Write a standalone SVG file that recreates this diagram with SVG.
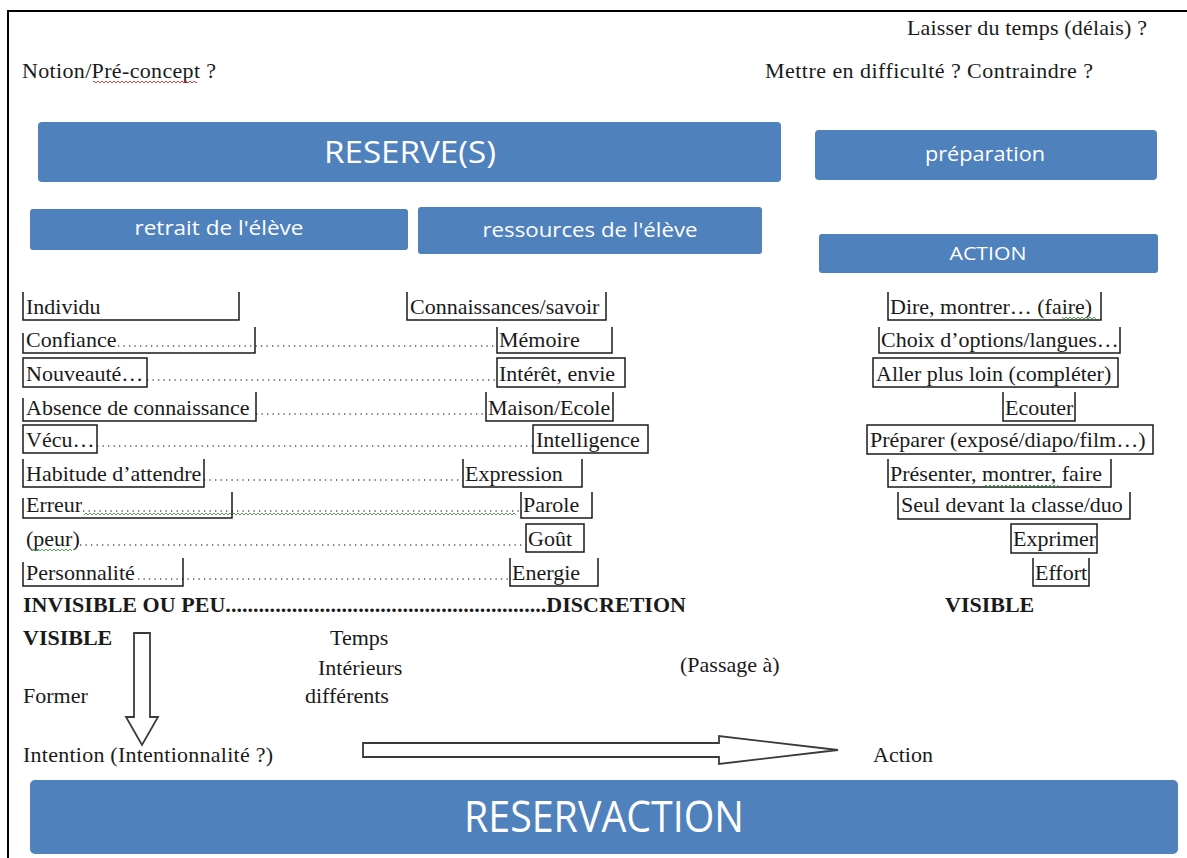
<svg xmlns="http://www.w3.org/2000/svg" width="1187" height="858" viewBox="0 0 1187 858">
<style>
.t{font-family:"Liberation Serif","Times New Roman",serif;font-size:22px;fill:#1a1a1a}
.b{font-weight:bold}
.bx{fill:none;stroke:#1a1a1a;stroke-width:1.5}
.lead{stroke:#555;stroke-width:1.3;stroke-dasharray:1.3 4.2;fill:none}
.blue{fill:#4f81bd}
.bl{font-family:"Open Sans","Noto Sans",sans-serif;fill:#ffffff;text-anchor:middle}
.arr{fill:#ffffff;stroke:#3a3a3a;stroke-width:1.8}
</style>
<defs>
<pattern id="wg" width="4" height="4" patternUnits="userSpaceOnUse"><path d="M0,3 L2,1 L4,3" fill="none" stroke="#3f9a3f" stroke-width="0.9"/></pattern>
<pattern id="wr" width="4" height="4" patternUnits="userSpaceOnUse"><path d="M0,3 L2,1 L4,3" fill="none" stroke="#d03030" stroke-width="0.9"/></pattern>
</defs>
<rect x="0" y="0" width="1187" height="858" fill="#ffffff"/>
<path d="M8,858 V11 H1187" fill="none" stroke="#000" stroke-width="2"/>

<g id="top-notes">
<text class="t" x="907" y="35" textLength="240">Laisser du temps (délais) ?</text>
<text class="t" x="765" y="78" textLength="328">Mettre en difficulté ? Contraindre ?</text>
<text class="t" x="22" y="78" textLength="194">Notion/Pré-concept ?</text>
<rect x="93" y="80" width="104" height="4" fill="url(#wr)"/>
</g>

<g id="reserves"><rect class="blue" x="38" y="122" width="743" height="60" rx="4"/><text class="bl" x="410" y="163" font-size="31" textLength="172" lengthAdjust="spacingAndGlyphs">RESERVE(S)</text></g>
<g id="preparation"><rect class="blue" x="815" y="130" width="342" height="50" rx="4"/><text class="bl" x="985" y="161" font-size="20" textLength="120" lengthAdjust="spacingAndGlyphs">préparation</text></g>
<g id="retrait"><rect class="blue" x="30" y="209" width="378" height="41" rx="3"/><text class="bl" x="219" y="235" font-size="20" textLength="169" lengthAdjust="spacingAndGlyphs">retrait de l'élève</text></g>
<g id="ressources"><rect class="blue" x="418" y="207" width="344" height="47" rx="3"/><text class="bl" x="590" y="237" font-size="20" textLength="215" lengthAdjust="spacingAndGlyphs">ressources de l'élève</text></g>
<g id="action-box"><rect class="blue" x="819" y="234" width="339" height="39" rx="3"/><text class="bl" x="988" y="260" font-size="18" textLength="77" lengthAdjust="spacingAndGlyphs">ACTION</text></g>

<g id="connectors">
<line class="lead" x1="118" y1="346" x2="497" y2="346"/>
<line class="lead" x1="147" y1="380" x2="497" y2="380"/>
<line class="lead" x1="256" y1="414" x2="486" y2="414"/>
<line class="lead" x1="97" y1="446" x2="533" y2="446"/>
<line class="lead" x1="204" y1="480" x2="463" y2="480"/>
<line class="lead" x1="83" y1="511" x2="521" y2="511"/>
<rect x="84" y="512" width="432" height="4" fill="url(#wg)"/>
<line class="lead" x1="80" y1="545" x2="526" y2="545"/>
<line class="lead" x1="138" y1="579" x2="510" y2="579"/>
<path class="arr" d="M134,633 H150 V717 H158 L142,745 L126,717 H134 Z"/>
<path class="arr" d="M363,743 H719 V736 L838,750 L719,764 V757 H363 Z"/>
</g>

<!-- left column -->
<g id="individu"><path class="bx" d="M23,292 V320 H239 V292"/><text class="t" x="26" y="314">Individu</text></g>
<g id="confiance"><path class="bx" d="M23,333 V353 H255 V327"/><text class="t" x="26" y="347">Confiance</text></g>
<g id="nouveaute"><rect class="bx" x="23" y="358" width="124" height="29"/><text class="t" x="26" y="381">Nouveauté…</text></g>
<g id="absence"><path class="bx" d="M23,398 V421 H256 V392"/><text class="t" x="26" y="415">Absence de connaissance</text></g>
<g id="vecu"><rect class="bx" x="23" y="425" width="74" height="28"/><text class="t" x="26" y="447">Vécu…</text></g>
<g id="habitude"><path class="bx" d="M23,459 V487 H204 V459"/><text class="t" x="26" y="481">Habitude d’attendre</text></g>
<g id="erreur"><path class="bx" d="M23,498 V518 H232 V492"/><text class="t" x="26" y="512">Erreur</text></g>
<g id="peur"><text class="t" x="26" y="546">(peur)</text><rect x="31" y="548" width="41" height="4" fill="url(#wg)"/></g>
<g id="personnalite"><path class="bx" d="M23,562 V586 H183 V558"/><text class="t" x="26" y="580">Personnalité</text></g>

<!-- middle column -->
<g id="connaissances"><path class="bx" d="M407,292 V320 H606 V292"/><text class="t" x="410" y="314">Connaissances/savoir</text></g>
<g id="memoire"><path class="bx" d="M497,327 V353 H612 V327"/><text class="t" x="499" y="347">Mémoire</text></g>
<g id="interet"><rect class="bx" x="497" y="358" width="128" height="29"/><text class="t" x="499" y="381">Intérêt, envie</text></g>
<g id="maison"><path class="bx" d="M486,392 V421 H613 V392"/><text class="t" x="488" y="415">Maison/Ecole</text></g>
<g id="intelligence"><rect class="bx" x="533" y="425" width="115" height="28"/><text class="t" x="536" y="447">Intelligence</text></g>
<g id="expression"><path class="bx" d="M463,459 V487 H582 V459"/><text class="t" x="465" y="481">Expression</text></g>
<g id="parole"><path class="bx" d="M521,492 V518 H592 V492"/><text class="t" x="523" y="512">Parole</text></g>
<g id="gout"><rect class="bx" x="526" y="524" width="58" height="28"/><text class="t" x="528" y="546">Goût</text></g>
<g id="energie"><path class="bx" d="M510,558 V586 H598 V558"/><text class="t" x="512" y="580">Energie</text></g>

<!-- right column -->
<g id="dire"><path class="bx" d="M888,292 V320 H1101 V292"/><text class="t" x="890" y="314">Dire, montrer… (faire)</text><rect x="1062" y="316" width="34" height="4" fill="url(#wg)"/></g>
<g id="choix"><path class="bx" d="M879,327 V353 H1120 V327"/><text class="t" x="881" y="347">Choix d’options/langues…</text></g>
<g id="aller"><rect class="bx" x="873" y="358" width="245" height="29"/><text class="t" x="876" y="381">Aller plus loin (compléter)</text></g>
<g id="ecouter"><path class="bx" d="M1003,392 V421 H1075 V392"/><text class="t" x="1005" y="415">Ecouter</text></g>
<g id="preparer"><rect class="bx" x="867" y="425" width="286" height="29"/><text class="t" x="870" y="447">Préparer (exposé/diapo/film…)</text></g>
<g id="presenter"><path class="bx" d="M888,459 V487 H1111 V459"/><text class="t" x="890" y="481">Présenter, montrer, faire</text><rect x="985" y="484" width="73" height="4" fill="url(#wg)"/></g>
<g id="seul"><path class="bx" d="M898,492 V519 H1130 V492"/><text class="t" x="901" y="512">Seul devant la classe/duo</text></g>
<g id="exprimer"><rect class="bx" x="1011" y="524" width="86" height="29"/><text class="t" x="1013" y="546">Exprimer</text></g>
<g id="effort"><path class="bx" d="M1033,558 V586 H1089 V558"/><text class="t" x="1035" y="580">Effort</text></g>

<!-- bottom labels -->
<g id="scale">
<text class="t b" x="23" y="612" textLength="663">INVISIBLE OU PEU..........................................................DISCRETION</text>
<text class="t b" x="945" y="612">VISIBLE</text>
<text class="t b" x="23" y="645">VISIBLE</text>
</g>
<g id="temps"><text class="t" x="330" y="645">Temps</text><text class="t" x="318" y="675">Intérieurs</text><text class="t" x="305" y="703">différents</text></g>
<g id="passage"><text class="t" x="680" y="672">(Passage à)</text></g>
<g id="former"><text class="t" x="23" y="703">Former</text></g>
<g id="intention"><text class="t" x="23" y="762" textLength="250">Intention (Intentionnalité  ?)</text></g>
<g id="action"><text class="t" x="873" y="762">Action</text></g>
<g id="reservaction"><rect class="blue" x="30" y="780" width="1148" height="74" rx="5"/><text class="bl" x="604" y="832" font-size="44" textLength="280" lengthAdjust="spacingAndGlyphs">RESERVACTION</text></g>
</svg>
